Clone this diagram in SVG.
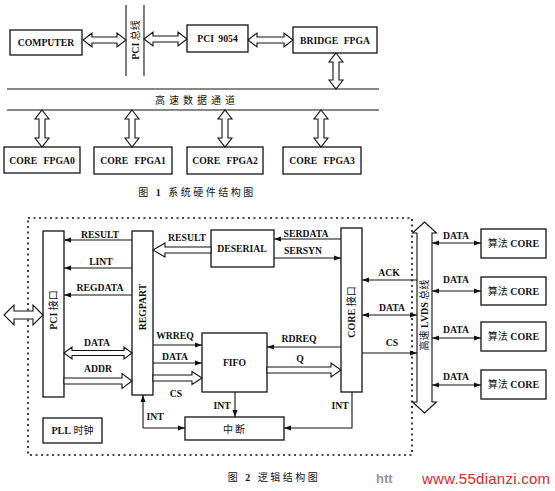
<svg xmlns="http://www.w3.org/2000/svg" width="555" height="491" viewBox="0 0 555 491">
<style>
text{font-family:"Liberation Serif","Noto Sans CJK SC",serif;font-size:9.7px;font-weight:bold;fill:#111;text-anchor:middle}
.cj{font-weight:normal;font-size:10px}
.b{font-weight:bold}
.box{fill:#fff;stroke:#111;stroke-width:1.3}
.ln{stroke:#111;stroke-width:1.1;fill:none}
.ho{fill:#fff;stroke:#111;stroke-width:1.1;stroke-linejoin:miter}
.dash{stroke:#111;stroke-width:1.6;fill:none;stroke-dasharray:2 3.5}
.a{marker-end:url(#ah)}
.aa{marker-end:url(#ah);marker-start:url(#ah)}
</style>
<defs>
<marker id="ah" markerUnits="userSpaceOnUse" markerWidth="7" markerHeight="6" refX="7" refY="3" orient="auto-start-reverse"><path d="M0,0.5 L7,3 L0,5.5 z" fill="#111"/></marker>
</defs>
<rect width="555" height="491" fill="#fff"/>

<!-- Figure 1 -->
<g id="computer"><rect class="box" x="10" y="30" width="72" height="25"/><text x="46" y="46">COMPUTER</text></g>
<g id="pcibus"><line class="ln" x1="126" y1="5" x2="126" y2="76"/><line class="ln" x1="144" y1="5" x2="144" y2="76"/><text class="cj" transform="translate(135,40) rotate(-90)" y="3.5"><tspan class="b">PCI</tspan> 总线</text></g>
<g id="pci9054"><rect class="box" x="187" y="25" width="61" height="27"/><text x="217.5" y="42" style="word-spacing:2px">PCI 9054</text></g>
<g id="bridge"><rect class="box" x="293" y="27" width="84" height="26"/><text x="335" y="44" style="word-spacing:3px">BRIDGE FPGA</text></g>
<g id="hsbus"><line class="ln" x1="7" y1="89" x2="379" y2="89"/><line class="ln" x1="7" y1="110" x2="379" y2="110"/><text class="cj" x="197" y="104" style="letter-spacing:4px">高速数据通道</text></g>
<g id="fpga0"><rect class="box" x="4" y="147" width="76" height="26"/><text x="42" y="164" style="word-spacing:4px">CORE FPGA0</text></g>
<g id="fpga1"><rect class="box" x="94" y="147" width="78" height="27"/><text x="133" y="164" style="word-spacing:4px">CORE FPGA1</text></g>
<g id="fpga2"><rect class="box" x="187" y="147" width="76" height="27"/><text x="225" y="164" style="word-spacing:4px">CORE FPGA2</text></g>
<g id="fpga3"><rect class="box" x="283" y="147" width="78" height="27"/><text x="322" y="164" style="word-spacing:4px">CORE FPGA3</text></g>
<text class="cj" x="197" y="196" style="letter-spacing:2.5px">图 <tspan class="b">1</tspan> 系统硬件结构图</text>

<!-- Figure 2 -->
<g id="border"><path class="dash" d="M28,218 H412 V455 H28 Z"/></g>
<g id="pciif"><rect class="box" x="43" y="231" width="21" height="166"/><text class="cj" transform="translate(53.5,310) rotate(-90)" y="3.5"><tspan class="b">PCI</tspan> 接口</text></g>
<g id="regpart"><rect class="box" x="132" y="231" width="21" height="164"/><text transform="translate(142.5,307) rotate(-90)" y="3.5">REGPART</text></g>
<g id="deserial"><rect class="box" x="211" y="230" width="63" height="37"/><text x="242" y="252">DESERIAL</text></g>
<g id="fifo"><rect class="box" x="202" y="333" width="65" height="59"/><text x="234.5" y="366">FIFO</text></g>
<g id="coreif"><rect class="box" x="341" y="228" width="21" height="164"/><text class="cj" transform="translate(351.5,312) rotate(-90)" y="3.5"><tspan class="b">CORE</tspan> 接口</text></g>
<g id="intr"><rect class="box" x="185" y="417" width="99" height="23"/><text class="cj" x="235" y="433" style="letter-spacing:2px">中断</text></g>
<g id="pll"><rect class="box" x="43" y="418" width="59" height="25"/><text class="cj" x="72.5" y="434"><tspan class="b">PLL</tspan> 时钟</text></g>
<g id="lvds"><polygon class="ho" points="424.5,222 436.5,233 432,233 432,402 436.5,402 424.5,413 412.5,402 417,402 417,233 412.5,233"/><text class="cj" transform="translate(424.5,315) rotate(-90)" y="3.5">高速 <tspan class="b">LVDS</tspan> 总线</text></g>
<g id="alg0"><rect class="box" x="481" y="229" width="65" height="29"/><text class="cj" x="513.5" y="247">算法 <tspan class="b">CORE</tspan></text></g>
<g id="alg1"><rect class="box" x="481" y="277" width="65" height="28"/><text class="cj" x="513.5" y="295">算法 <tspan class="b">CORE</tspan></text></g>
<g id="alg2"><rect class="box" x="481" y="322" width="65" height="29"/><text class="cj" x="513.5" y="340">算法 <tspan class="b">CORE</tspan></text></g>
<g id="alg3"><rect class="box" x="481" y="370" width="65" height="29"/><text class="cj" x="513.5" y="388">算法 <tspan class="b">CORE</tspan></text></g>
<text class="cj" x="274" y="481" style="letter-spacing:2.5px">图 <tspan class="b">2</tspan>  逻辑结构图</text>

<g id="connectors">
<polygon class="ho" points="83,40 92,33 92,37 117,37 117,33 126,40 117,47 117,43 92,43 92,47"/>
<polygon class="ho" points="144,39 153,32 153,36 178,36 178,32 187,39 178,46 178,42 153,42 153,46"/>
<polygon class="ho" points="248,40 257,33 257,37 284,37 284,33 293,40 284,47 284,43 257,43 257,47"/>
<polygon class="ho" points="336,53 343,62 339,62 339,80 343,80 336,89 329,80 333,80 333,62 329,62"/>
<polygon class="ho" points="42,110 49,119 45,119 45,138 49,138 42,147 35,138 39,138 39,119 35,119"/>
<polygon class="ho" points="132,110 139,119 135,119 135,138 139,138 132,147 125,138 129,138 129,119 125,119"/>
<polygon class="ho" points="225,110 232,119 228,119 228,138 232,138 225,147 218,138 222,138 222,119 218,119"/>
<polygon class="ho" points="321,110 328,119 324,119 324,138 328,138 321,147 314,138 318,138 318,119 314,119"/>

<polygon class="ho" points="4,315 14,305 14,311 33,311 33,305 43,315 33,325 33,319 14,319 14,325"/>
<polygon class="ho" points="64,353 72,347 72,350.5 124,350.5 124,347 132,353 124,359 124,355.5 72,355.5 72,359"/>
<polygon class="ho" points="64,378 122,378 122,373.5 132,381 122,388.5 122,384 64,384"/>
<polygon class="ho" points="153,375 192,375 192,371.5 202,378 192,384.5 192,381 153,381"/>
<polygon class="ho" points="267,367 331,367 331,363 341,370 331,377 331,373 267,373"/>
<polygon class="ho" points="211,247 165,247 165,243 153,250 165,257 165,253 211,253"/>

<line class="ln a" x1="132" y1="240" x2="64" y2="240"/>
<line class="ln a" x1="132" y1="268" x2="64" y2="268"/>
<line class="ln a" x1="132" y1="295" x2="64" y2="295"/>
<line class="ln a" x1="153" y1="345" x2="202" y2="345"/>
<line class="ln a" x1="153" y1="363" x2="202" y2="363"/>
<line class="ln a" x1="341" y1="347" x2="267" y2="347"/>
<line class="ln a" x1="341" y1="239" x2="274" y2="239"/>
<line class="ln a" x1="274" y1="258" x2="341" y2="258"/>
<line class="ln a" x1="417" y1="280" x2="362" y2="280"/>
<line class="ln aa" x1="362" y1="315" x2="417" y2="315"/>
<line class="ln a" x1="362" y1="353" x2="417" y2="353"/>
<line class="ln aa" x1="432" y1="243" x2="481" y2="243"/>
<line class="ln aa" x1="432" y1="291" x2="481" y2="291"/>
<line class="ln aa" x1="432" y1="338" x2="481" y2="338"/>
<line class="ln aa" x1="432" y1="385" x2="481" y2="385"/>
<line class="ln a" x1="143" y1="428" x2="143" y2="395"/>
<line class="ln a" x1="143" y1="428" x2="185" y2="428"/>
<line class="ln a" x1="235" y1="392" x2="235" y2="417"/>
<polyline class="ln a" points="352,392 352,428 284,428"/>

<text x="100" y="238">RESULT</text>
<text x="101" y="265">LINT</text>
<text x="100" y="291">REGDATA</text>
<text x="97" y="346">DATA</text>
<text x="98" y="372">ADDR</text>
<text x="187" y="241">RESULT</text>
<text x="306" y="237">SERDATA</text>
<text x="303" y="254">SERSYN</text>
<text x="175" y="339">WRREQ</text>
<text x="175" y="360">DATA</text>
<text x="176" y="397">CS</text>
<text x="299" y="342">RDREQ</text>
<text x="300" y="362">Q</text>
<text x="155" y="420">INT</text>
<text x="222" y="409">INT</text>
<text x="340" y="409">INT</text>
<text x="389" y="276">ACK</text>
<text x="392" y="311">DATA</text>
<text x="392" y="346">CS</text>
<text x="456" y="239">DATA</text>
<text x="456" y="283">DATA</text>
<text x="456" y="333">DATA</text>
<text x="456" y="380">DATA</text>
</g>
<text x="376" y="483" style="font-family:'Liberation Sans',sans-serif;font-size:13px;fill:#8a96a8;text-anchor:start">htt</text>
<text x="422" y="484" textLength="128" style="font-family:'Liberation Sans',sans-serif;font-weight:normal;font-size:15px;fill:#d42a2a;text-anchor:start">www.55dianzi.com</text>
</svg>
